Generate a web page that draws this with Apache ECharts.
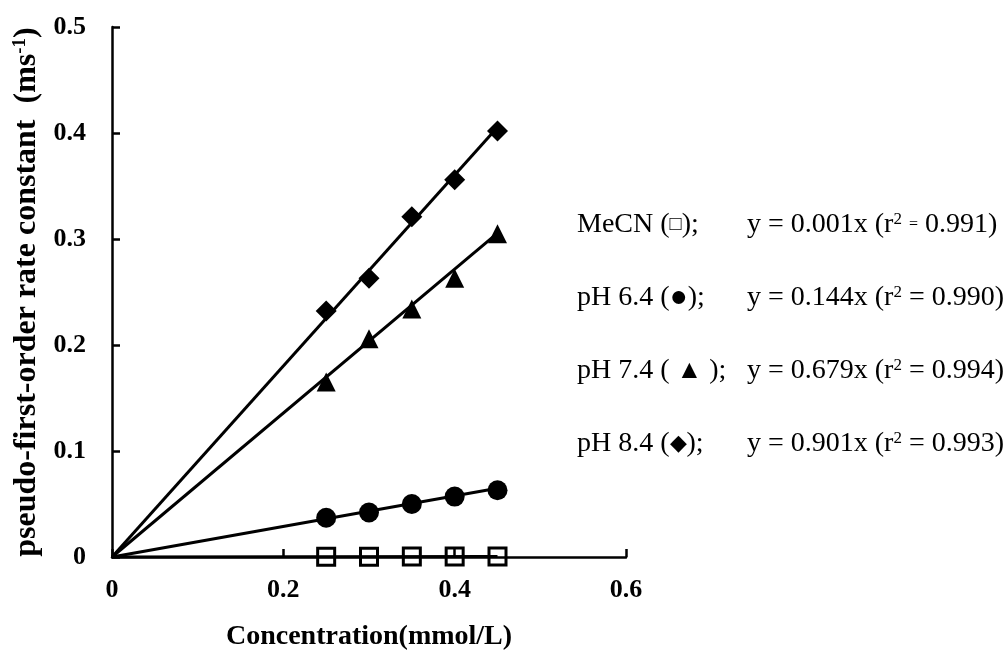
<!DOCTYPE html>
<html>
<head>
<meta charset="utf-8">
<script src="https://cdn.jsdelivr.net/npm/echarts@6/dist/echarts.min.js"></script>
<style>
  html, body { margin: 0; padding: 0; background: #fff; }
  #chart { width: 1008px; height: 657px; }
</style>
</head>
<body>
<div id="chart"></div>
<script>
// Substrate concentrations (mmol/L)
const concentrations = [0.25, 0.30, 0.35, 0.40, 0.45];

// Observed pseudo-first-order rate constants (ms^-1)
const mecnRates = [0.0003, 0.0003, 0.0004, 0.0004, 0.0005];
const ph64Rates = [0.037, 0.042, 0.050, 0.057, 0.063];
const ph74Rates = [0.165, 0.206, 0.234, 0.263, 0.305];
const ph84Rates = [0.232, 0.263, 0.321, 0.356, 0.402];

// Linear fits through the origin: slope and r^2
const seriesNames = ['MeCN', 'pH 6.4', 'pH 7.4', 'pH 8.4'];
const fitSlopes = [0.001, 0.144, 0.679, 0.901];
const fitR2 = ['0.991', '0.990', '0.994', '0.993'];
const fitRange = [0, 0.45];

// Axis ticks
const xTicks = [0, 0.2, 0.4, 0.6];
const yTicks = [0, 0.1, 0.2, 0.3, 0.4, 0.5];

const SERIF = '"Liberation Serif", "Times New Roman", serif';

function points(ys) {
  return concentrations.map((x, i) => [x, ys[i]]);
}
function fitLine(slope) {
  return fitRange.map(x => [x, slope * x]);
}

const markerStyles = [
  { symbol: 'rect', symbolSize: 17, itemStyle: { color: 'rgba(0,0,0,0)', borderColor: '#000', borderWidth: 3, opacity: 1 } },
  { symbol: 'circle', symbolSize: 20, itemStyle: { color: '#000', opacity: 1 } },
  { symbol: 'triangle', symbolSize: 19, itemStyle: { color: '#000', opacity: 1 } },
  { symbol: 'diamond', symbolSize: 21, itemStyle: { color: '#000', opacity: 1 } }
];
const rateSets = [mecnRates, ph64Rates, ph74Rates, ph84Rates];

const series = [];
rateSets.forEach((rates, i) => {
  series.push({
    name: seriesNames[i] + ' fit',
    type: 'line',
    data: fitLine(fitSlopes[i]),
    showSymbol: false,
    lineStyle: { color: '#000', width: 3 },
    z: 2,
    silent: true
  });
  series.push(Object.assign({
    name: seriesNames[i],
    type: 'scatter',
    data: points(rates),
    z: 3,
    silent: true
  }, markerStyles[i]));
});

// Legend rows: label with marker glyph, then the fitted equation
const legendGlyphs = ['\u25A1', '\u25CF', '\u25B2', '\u25C6'];
const glyphSizes = [20, 30, 26, 22];
const legendY = 225;
const legendStep = 73;
const graphic = [];
seriesNames.forEach((name, i) => {
  const y = legendY + i * legendStep;
  const glyph = i === 2 ? ' {g|' + legendGlyphs[i] + '} ' : '{g|' + legendGlyphs[i] + '}';
  graphic.push({
    type: 'text', x: 577, y: y,
    style: {
      text: name + ' (' + glyph + ');',
      font: '28px ' + SERIF, fill: '#000', verticalAlign: 'middle',
      rich: { g: { fontFamily: SERIF, fontSize: glyphSizes[i], fill: '#000' } }
    }
  });
  const eq = i === 0 ? '{small|=}' : '=';
  graphic.push({
    type: 'text', x: 747, y: y,
    style: {
      text: 'y = ' + fitSlopes[i].toFixed(3) + 'x (r{sup|2} ' + eq + ' ' + fitR2[i] + ')',
      font: '28px ' + SERIF, fill: '#000', verticalAlign: 'middle',
      rich: {
        sup: { fontFamily: SERIF, fontSize: 17, verticalAlign: 'top', lineHeight: 17, fill: '#000' },
        small: { fontFamily: SERIF, fontSize: 16, fill: '#000' }
      }
    }
  });
});

const chart = echarts.init(document.getElementById('chart'), null, { renderer: 'canvas' });
chart.setOption({
  backgroundColor: '#fff',
  animation: false,
  grid: { left: 112, right: 382, top: 27, bottom: 100 },
  xAxis: {
    type: 'value',
    min: xTicks[0], max: xTicks[xTicks.length - 1], interval: 0.2,
    name: 'Concentration(mmol/L)',
    nameLocation: 'middle', nameGap: 66,
    nameTextStyle: { fontFamily: SERIF, fontWeight: 'bold', fontSize: 28, color: '#000' },
    axisLine: { show: true, onZero: false, lineStyle: { color: '#000', width: 2.5 } },
    axisTick: { show: true, inside: true, length: 8, lineStyle: { color: '#000', width: 2.5 } },
    axisLabel: { margin: 20, fontFamily: SERIF, fontWeight: 'bold', fontSize: 26, color: '#000',
      formatter: v => String(+v.toFixed(1)) },
    splitLine: { show: false }
  },
  yAxis: {
    type: 'value',
    min: yTicks[0], max: yTicks[yTicks.length - 1], interval: 0.1,
    name: 'pseudo-first-order rate constant  (ms{sup|-1})',
    nameLocation: 'middle', nameGap: 69, nameRotate: 90,
    nameTextStyle: {
      fontFamily: SERIF, fontWeight: 'bold', fontSize: 32, color: '#000',
      rich: { sup: { fontFamily: SERIF, fontWeight: 'bold', fontSize: 19, verticalAlign: 'top', lineHeight: 19, color: '#000' } }
    },
    axisLine: { show: true, onZero: false, lineStyle: { color: '#000', width: 2.5 } },
    axisTick: { show: true, inside: true, length: 8, lineStyle: { color: '#000', width: 2.5 } },
    axisLabel: { margin: 26, fontFamily: SERIF, fontWeight: 'bold', fontSize: 26, color: '#000',
      formatter: v => String(+v.toFixed(1)) },
    splitLine: { show: false }
  },
  graphic: graphic,
  series: series
});
</script>
</body>
</html>
